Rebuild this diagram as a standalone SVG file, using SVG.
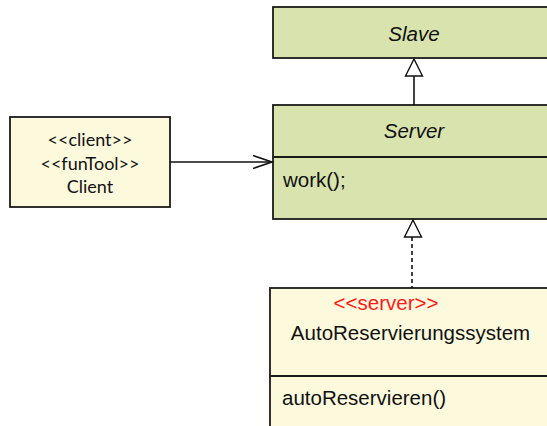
<svg xmlns="http://www.w3.org/2000/svg" width="547" height="426" viewBox="0 0 547 426">
<style>
.green{fill:#d9e3ad;stroke:#1a1a1a;stroke-width:1.8}
.yellow{fill:#fdf9dc;stroke:#1a1a1a;stroke-width:1.8}
.div{stroke:#1a1a1a;stroke-width:1.8}
.t{font-family:"Liberation Sans",Arial,sans-serif;font-size:20.5px;fill:#111}
.it{font-style:italic}
.c{font-family:Lato,"Noto Sans",sans-serif;font-size:18px;fill:#111}
.conn{stroke:#111;stroke-width:1.6;fill:none}
.tri{fill:#fff;stroke:#111;stroke-width:1.4}
</style>
<rect width="547" height="426" fill="#fff"/>
<g id="slave">
<rect class="green" x="273" y="7" width="282" height="51"/>
<text class="t it" x="414" y="41" text-anchor="middle">Slave</text>
</g>
<g id="server">
<rect class="green" x="273" y="105" width="282" height="114"/>
<line class="div" x1="273" y1="157" x2="555" y2="157"/>
<text class="t it" x="414" y="138" text-anchor="middle">Server</text>
<text class="t" x="283" y="187">work();</text>
</g>
<g id="client">
<rect class="yellow" x="10" y="117" width="160" height="90"/>
<text class="c" x="90" y="146" text-anchor="middle">&lt;&lt;client&gt;&gt;</text>
<text class="c" x="90" y="170" text-anchor="middle">&lt;&lt;funTool&gt;&gt;</text>
<text class="c" x="90" y="193" text-anchor="middle">Client</text>
</g>
<g id="autoreservierungssystem">
<rect class="yellow" x="270" y="288" width="282" height="150"/>
<line class="div" x1="270" y1="376" x2="552" y2="376"/>
<text class="t" x="386" y="310" text-anchor="middle" style="fill:#ff1a1a">&lt;&lt;server&gt;&gt;</text>
<text class="t" x="410.5" y="340" text-anchor="middle">AutoReservierungssystem</text>
<text class="t" x="282" y="405">autoReservieren()</text>
</g>
<g id="connectors">
<line class="conn" x1="414" y1="76" x2="414" y2="105"/>
<polygon class="tri" points="414,59 405.5,76 422.5,76"/>
<line class="conn" x1="170" y1="162" x2="272" y2="162"/>
<polyline class="conn" points="253,155.5 272,162 253,168.5"/>
<line class="conn" x1="412" y1="237" x2="412" y2="288" stroke-dasharray="4,3"/>
<polygon class="tri" points="413,220 404.5,237 421.5,237"/>
</g>
</svg>
